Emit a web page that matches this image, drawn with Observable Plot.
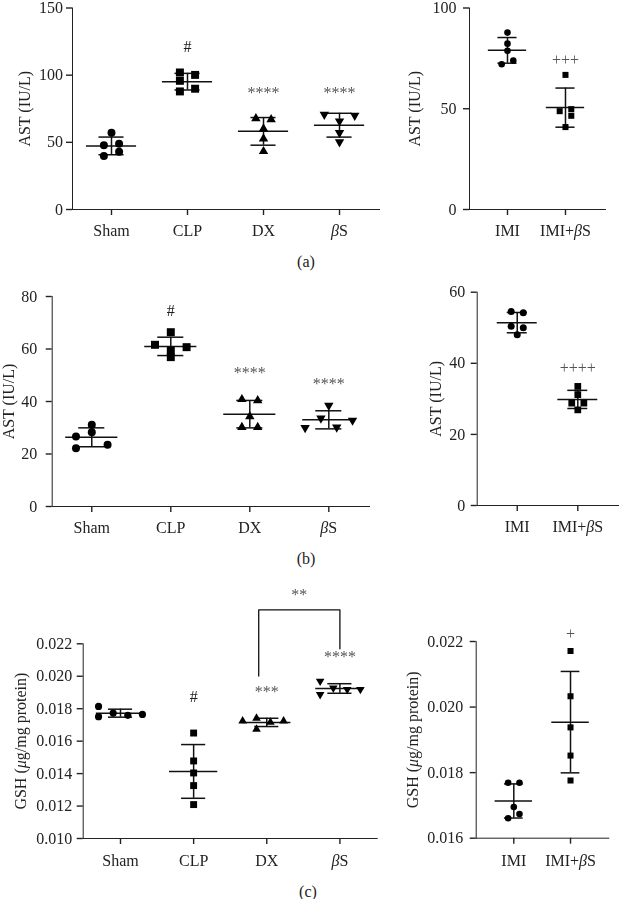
<!DOCTYPE html>
<html><head><meta charset="utf-8">
<script src="https://cdn.jsdelivr.net/npm/d3@7"></script>
<script src="https://cdn.jsdelivr.net/npm/@observablehq/plot@0.6"></script>
<style>
html,body{margin:0;padding:0;background:#fff;}
#fig{position:relative;width:620px;height:899px;overflow:hidden;font-family:"Liberation Serif",serif;background:#fff;-webkit-font-smoothing:antialiased;}
.panel{position:absolute;will-change:transform;}
.panel svg{display:block;overflow:visible;}
.panel svg g[aria-label*="axis"] line, .panel svg g[aria-label*="axis"] path{stroke-width:1.4;}
.cap{position:absolute;font-size:16px;color:#222;transform:translateX(-50%);line-height:1;white-space:nowrap;}
</style></head><body><div id="fig"></div>
<script>
// ---------- categories ----------
const leftGroups = ["Sham", "CLP", "DX", "βS"];
const rightGroups = ["IMI", "IMI+βS"];
const leftSymbols = ["circle", "square", "triangle", "triangleDown"];
const rightSymbols = ["circle", "square"];

// ---------- (a) AST (IU/L) ----------
const astA_left = [[57.1, 47.8, 49.0, 39.9, 42.9], [102.0, 95.8, 87.9, 100.2, 89.9], [67.7, 67.0, 60.1, 52.7, 43.3], [70.7, 70.0, 65.8, 57.1, 50.2]];
const astA_leftSlots = [[0, -1, 1, -1, 1], [-1, -1, -1, 1, 1], [-1, 1, 0, 0, 0], [-2, 2, 0, 0, 0]];
const astA_leftMarks = ["", "#", "****", "****"];
const astA_leftMarkY = [null, 121, 86.7, 86.7];
const astA_leftTicks = [0, 50, 100, 150];
const astA_right = [[87.8, 82.3, 78.8, 72.1, 73.9], [66.8, 48.8, 49.8, 46.5, 40.9]];
const astA_rightSlots = [[0, 0, 0, -1, 1], [0, -1, 1, 1, 0]];
const astA_rightMarks = ["", "+++"];
const astA_rightMarkY = [null, 74.2];
const astA_rightTicks = [0, 50, 100];

// ---------- (b) AST (IU/L) ----------
const astB_left = [[31.1, 28.3, 26.7, 22.2, 23.5], [61.6, 66.4, 59.4, 56.9, 60.7], [40.8, 40.4, 34.3, 30.2, 30.2], [38.5, 33.6, 30.0, 30.2, 32.8]];
const astB_leftSlots = [[0, 0, -2, -2, 2], [-2, 0, 0, 0, 2], [-1, 1, 0, -1, 1], [0, -1, -3, 1, 3]];
const astB_leftMarks = ["", "#", "****", "****"];
const astB_leftMarkY = [null, 74.7, 50.8, 46.7];
const astB_leftTicks = [0, 20, 40, 60, 80];
const astB_right = [[54.6, 54.2, 50.4, 50.0, 48.0], [33.5, 31.2, 28.8, 28.8, 26.9]];
const astB_rightSlots = [[-1, 1, -1, 1, 0], [0, 0, -1, 1, 0]];
const astB_rightMarks = ["", "++++"];
const astB_rightMarkY = [null, 38.7];
const astB_rightTicks = [0, 20, 40, 60];

// ---------- (c) GSH (μg/mg protein) ----------
const gshC_left = [[0.01814, 0.01751, 0.01773, 0.01759, 0.01765], [0.01650, 0.01478, 0.01404, 0.01326, 0.01209], [0.01724, 0.01741, 0.01673, 0.01716, 0.01724], [0.01970, 0.01888, 0.01927, 0.01919, 0.01919]];
const gshC_leftSlots = [[-3, -3, -1, 1, 3], [0, 0, 0, 0, 0], [-3.3, -1.4, -1.4, 0.5, 2.3], [-2.7, -2.7, -0.9, 1, 2.8]];
const gshC_leftMarks = ["", "#", "***", "****"];
const gshC_leftMarkY = [null, 0.01871, 0.01902, 0.02118];
const gshC_leftTicks = [0.010, 0.012, 0.014, 0.016, 0.018, 0.020, 0.022];
const gshC_right = [[0.01769, 0.01769, 0.01695, 0.01661, 0.01674], [0.02171, 0.02033, 0.01938, 0.01852, 0.01776]];
const gshC_rightSlots = [[-1, 1, 0, -1, 1], [0, 0, 0, 0, 0]];
const gshC_rightMarks = ["", "+"];
const gshC_rightMarkY = [null, 0.02222];
const gshC_rightTicks = [0.016, 0.018, 0.020, 0.022];
// significance bracket DX vs βS
const bracketGroups = ["DX", "βS"];
const bracketSlots = [-1.1, 0];
const bracketBottoms = [0.02001, 0.02169];
const bracketTop = 0.02409;
const bracketLabel = "**";
const bracketLabelY = 0.02504;

// ---------- drawing ----------
const SLOT = 0.1, MEAN_W = 0.33, CAP_W = 0.165;
const triangleDown = {
  draw(context, size) {
    const y = -Math.sqrt(size / (Math.sqrt(3) * 3));
    context.moveTo(0, -y * 2);
    context.lineTo(-Math.sqrt(3) * y, y);
    context.lineTo(Math.sqrt(3) * y, y);
    context.closePath();
  }
};
const SYM = {circle: "circle", square: "square", triangle: "triangle", triangleDown};
const INK = "#111";

function italicize(svg) {
  svg.querySelectorAll("text").forEach(t => {
    if (t.children.length) return;
    const s = t.textContent;
    if (!/[βμ]/.test(s)) return;
    t.textContent = "";
    for (const part of s.split(/([βμ])/)) {
      if (!part) continue;
      const ts = document.createElementNS("http://www.w3.org/2000/svg", "tspan");
      if (/[βμ]/.test(part)) ts.setAttribute("font-style", "italic");
      ts.textContent = part;
      t.appendChild(ts);
    }
  });
}

function panel(cfg) {
  const n = cfg.groups.length;
  const pts = [], stats = [], hashNotes = [], starNotes = [];
  cfg.values.forEach((vals, i) => {
    vals.forEach((v, j) => pts.push({g: i, x: i + cfg.slots[i][j] * SLOT, y: v}));
    stats.push({g: i, mean: d3.mean(vals), sd: d3.deviation(vals)});
    if (cfg.marks[i]) (cfg.marks[i] === "#" ? hashNotes : starNotes).push({g: i, y: cfg.markY[i], label: cfg.marks[i]});
  });
  const ruleOpts = {stroke: INK, strokeWidth: 1.5};
  const marks = [
    Plot.ruleX(stats, {x: "g", y1: d => d.mean - d.sd, y2: d => d.mean + d.sd, ...ruleOpts}),
    Plot.ruleY(stats, {y: "mean", x1: d => d.g - MEAN_W, x2: d => d.g + MEAN_W, ...ruleOpts}),
    Plot.ruleY(stats, {y: d => d.mean + d.sd, x1: d => d.g - CAP_W, x2: d => d.g + CAP_W, ...ruleOpts}),
    Plot.ruleY(stats, {y: d => d.mean - d.sd, x1: d => d.g - CAP_W, x2: d => d.g + CAP_W, ...ruleOpts})
  ];
  cfg.groups.forEach((_, i) => {
    marks.push(Plot.dot(pts.filter(p => p.g === i), {x: "x", y: "y", symbol: SYM[cfg.symbols[i]], r: cfg.r[i], fill: "#000", stroke: "none"}));
  });
  marks.push(Plot.text(hashNotes, {x: "g", y: "y", text: "label", fill: "#222", fontSize: 16}));
  marks.push(Plot.text(starNotes, {x: "g", y: "y", text: "label", fill: "#555", fontSize: 16}));
  marks.push(Plot.text([cfg.ylabel], {frameAnchor: "left", rotate: -90, dx: cfg.labelDx, textAnchor: "middle", lineAnchor: "middle", fontSize: 16, fill: "#222"}));
  if (cfg.extra) marks.push(...cfg.extra);
  const svg = Plot.plot({
    width: cfg.width, height: cfg.height,
    marginLeft: cfg.ml, marginRight: cfg.mr, marginTop: cfg.mt, marginBottom: cfg.mb,
    style: {fontFamily: "Liberation Serif, serif", fontSize: "16px", color: "#222", background: "transparent", overflow: "visible"},
    x: {type: "linear", domain: cfg.xDomain, ticks: d3.range(n), tickFormat: i => cfg.groups[i], tickSize: 6, tickPadding: cfg.xPad ?? 9, line: true, label: null},
    y: {type: "linear", domain: cfg.yDomain, ticks: cfg.yTicks, tickFormat: cfg.yFormat, tickSize: 6, tickPadding: cfg.yPad, line: true, label: null},
    marks
  });
  italicize(svg);
  const div = document.createElement("div");
  div.className = "panel";
  div.style.left = cfg.left + "px";
  div.style.top = cfg.top + "px";
  div.appendChild(svg);
  document.getElementById("fig").appendChild(div);
}

function caption(text, x, y) {
  const d = document.createElement("div");
  d.className = "cap";
  d.textContent = text;
  d.style.left = x + "px";
  d.style.top = y + "px";
  document.getElementById("fig").appendChild(d);
}

const intFmt = d3.format("d");
const gshFmt = d3.format(".3f");

// (a)
panel({groups: leftGroups, symbols: leftSymbols, r: [4, 4.5, 3.5, 3.5], values: astA_left, slots: astA_leftSlots,
  marks: astA_leftMarks, markY: astA_leftMarkY, yDomain: [0, 150], yTicks: astA_leftTicks, yFormat: intFmt,
  ylabel: "AST (IU/L)", labelDx: -47.5, xDomain: [-0.513, 3.526],
  left: 0, top: 0, width: 390, height: 244, ml: 72, mr: 11, mt: 7.5, mb: 35, yPad: 3.5});
panel({groups: rightGroups, symbols: rightSymbols, r: [3.3, 3.4], values: astA_right, slots: astA_rightSlots,
  marks: astA_rightMarks, markY: astA_rightMarkY, yDomain: [0, 100], yTicks: astA_rightTicks, yFormat: intFmt,
  ylabel: "AST (IU/L)", labelDx: -54.5, xDomain: [-0.655, 1.69],
  left: 400, top: 0, width: 220, height: 244, ml: 69, mr: 15, mt: 7.5, mb: 35, yPad: 7});
caption("(a)", 306, 254);

// (b)
panel({groups: leftGroups, symbols: leftSymbols, r: [4, 4.5, 3.5, 3.5], values: astB_left, slots: astB_leftSlots,
  marks: astB_leftMarks, markY: astB_leftMarkY, yDomain: [0, 80], yTicks: astB_leftTicks, yFormat: intFmt,
  ylabel: "AST (IU/L)", labelDx: -43.4, xDomain: [-0.501, 3.515],
  left: 0, top: 290, width: 380, height: 251, ml: 51.7, mr: 11, mt: 6, mb: 35, yPad: 9});
panel({groups: rightGroups, symbols: rightSymbols, r: [3.5, 3.8], values: astB_right, slots: astB_rightSlots,
  marks: astB_rightMarks, markY: astB_rightMarkY, yDomain: [0, 60], yTicks: astB_rightTicks, yFormat: intFmt,
  ylabel: "AST (IU/L)", labelDx: -40.9, xDomain: [-0.661, 1.672],
  left: 400, top: 286, width: 220, height: 254, ml: 76.7, mr: 2, mt: 5.7, mb: 35, yPad: 6});
caption("(b)", 306, 551);

// (c)
const bx = bracketGroups.map((g, k) => leftGroups.indexOf(g) + bracketSlots[k] * SLOT);
const bracketPts = [
  {x: bx[0], y: bracketBottoms[0]}, {x: bx[0], y: bracketTop},
  {x: bx[1], y: bracketTop}, {x: bx[1], y: bracketBottoms[1]}
];
panel({groups: leftGroups, symbols: leftSymbols, r: [3.6, 3.9, 3.2, 3.2], values: gshC_left, slots: gshC_leftSlots,
  marks: gshC_leftMarks, markY: gshC_leftMarkY, yDomain: [0.010, 0.022], yTicks: gshC_leftTicks, yFormat: gshFmt,
  ylabel: "GSH (μg/mg protein)", labelDx: -61.9, xDomain: [-0.51, 3.51],
  left: 0, top: 580, width: 390, height: 293, ml: 82.7, mr: 13.3, mt: 63.3, mb: 35, yPad: 5, xPad: 10,
  extra: [
    Plot.line(bracketPts, {x: "x", y: "y", stroke: INK, strokeWidth: 1.3}),
    Plot.text([bracketLabel], {x: () => (bx[0] + bx[1]) / 2, y: () => bracketLabelY, fill: "#555", fontSize: 16})
  ]});
panel({groups: rightGroups, symbols: rightSymbols, r: [3.3, 3.4], values: gshC_right, slots: gshC_rightSlots,
  marks: gshC_rightMarks, markY: gshC_rightMarkY, yDomain: [0.016, 0.022], yTicks: gshC_rightTicks, yFormat: gshFmt,
  ylabel: "GSH (μg/mg protein)", labelDx: -63, xDomain: [-0.663, 1.675],
  left: 400, top: 580, width: 220, height: 293, ml: 75.7, mr: 11.7, mt: 61, mb: 35.3, yPad: 7, xPad: 10});
caption("(c)", 308, 884);
</script></body></html>
